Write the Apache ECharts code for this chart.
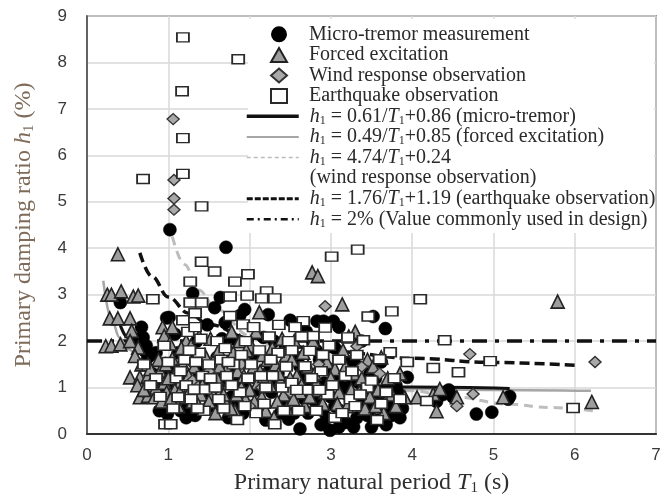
<!DOCTYPE html>
<html>
<head>
<meta charset="utf-8">
<script src="https://cdn.jsdelivr.net/npm/echarts@6/dist/echarts.min.js"></script>
<style>
  html, body { margin: 0; padding: 0; background: #fff; }
  #chart { width: 668px; height: 501px; }
</style>
</head>
<body>
<div id="chart"></div>
<script>
// Observed primary damping ratio h1 (%) against primary natural period T1 (s)
const microTremor = [
  [1.02,4.40],[1.71,4.02],[1.30,3.03],[0.41,2.83],[1.01,2.51],[0.98,2.50],
  [1.64,2.94],[1.57,2.72],[1.94,2.68],[2.23,2.57],[3.52,2.53],[3.67,2.27],[2.20,2.98],
  [0.67,2.30],[0.69,2.08],[0.60,2.05],[0.73,1.90],[0.71,1.79],[0.75,1.65],[0.85,1.75],[0.95,1.30],[0.89,0.50],[0.99,0.43],
  [1.05,1.45],[1.12,1.75],[1.20,1.25],[1.15,0.50],[1.22,0.35],[1.08,2.15],
  [1.35,2.00],[1.42,1.50],[1.46,0.90],[1.33,0.40],[1.48,2.35],
  [1.70,2.40],[1.60,1.65],[1.68,1.10],[1.55,0.60],[1.74,0.35],[1.66,2.05],
  [1.80,2.05],[1.85,1.15],[1.92,0.45],[1.97,1.70],[1.78,0.80],[1.88,2.55],
  [2.17,2.08],[2.05,1.65],[2.12,0.95],[2.20,0.30],[2.03,0.60],[2.24,1.35],
  [2.30,2.00],[2.35,1.30],[2.40,0.70],[2.48,0.32],[2.44,1.90],[2.27,0.90],[2.50,2.45],
  [2.60,1.64],[2.62,0.11],[2.55,0.85],[2.65,1.20],[2.70,2.20],[2.72,0.45],[2.58,2.35],[2.68,0.75],
  [2.83,2.43],[2.91,2.43],[2.80,0.72],[2.86,1.60],[2.92,1.10],[2.99,0.08],[2.95,0.35],[2.78,1.95],[2.88,0.20],
  [3.03,2.43],[3.05,1.85],[3.08,1.20],[3.12,0.50],[3.18,0.25],[3.22,1.55],[3.00,0.80],[3.15,1.00],[3.10,2.30],[3.25,0.65],
  [3.30,1.50],[3.35,1.10],[3.40,0.70],[3.45,0.40],[3.28,0.15],[3.48,1.30],[3.38,2.00],[3.50,0.15],
  [3.55,1.20],[3.60,0.85],[3.65,0.55],[3.70,1.05],[3.58,0.30],[3.72,0.65],[3.62,1.55],
  [3.94,1.22],[3.82,0.90],[3.88,0.55],[3.80,1.05],
  [0.80,1.30],[0.92,1.05],[1.00,0.70],[1.10,1.05],[1.25,0.60],[1.28,1.60],[1.38,1.25],[1.50,1.10],[1.58,1.35],
  [1.64,0.80],[1.76,1.40],[1.82,0.60],[1.95,1.00],[2.08,1.20],[2.15,0.55],[2.26,1.10],[2.38,0.45],[2.45,1.10],
  [2.55,0.45],[2.62,1.45],[2.75,1.05],[2.82,1.80],[2.90,0.50],[2.98,1.40],[3.05,0.60],[3.10,0.15],[3.20,0.85],
  [3.25,1.20],[3.32,0.35],[3.42,0.95],[3.50,0.55],[3.55,0.95],[3.68,0.20],[3.75,0.40],[3.85,0.35],
  [4.30,0.70],[4.38,0.85],[4.45,0.95],[4.50,0.80],[4.79,0.43],[4.98,0.47],[5.18,0.75],[5.20,0.81]
];
const forcedExcitation = [
  [0.38,3.87],[0.25,3.00],[0.30,3.00],[0.42,3.07],[0.57,2.96],[0.63,2.98],
  [0.28,2.49],[0.38,2.49],[0.53,2.49],[0.23,1.89],[0.30,1.90],[0.41,1.93],
  [0.55,2.22],[0.53,2.00],[0.63,1.86],[0.59,1.68],[0.67,1.50],[0.75,1.50],
  [0.53,1.22],[0.65,1.22],[0.75,1.25],[0.65,0.79],[0.75,0.82],[0.83,0.79],
  [0.93,2.30],[0.95,2.11],[0.85,1.00],[0.90,1.35],[0.95,1.10],[0.98,0.90],[0.88,1.60],
  [1.02,1.95],[1.05,1.62],[1.10,1.35],[1.15,1.12],[1.08,0.95],[1.20,0.80],[1.12,0.60],[1.18,1.50],[1.22,2.00],[1.05,2.30],
  [1.28,1.90],[1.32,1.45],[1.35,1.10],[1.40,0.85],[1.45,0.55],[1.30,0.70],[1.48,1.30],[1.38,2.10],[1.45,1.70],
  [1.52,2.05],[1.55,1.55],[1.60,1.20],[1.65,0.95],[1.70,0.70],[1.58,0.45],[1.72,1.40],[1.62,1.80],[1.55,0.85],
  [1.78,2.20],[1.80,1.75],[1.85,1.35],[1.90,1.00],[1.95,0.75],[1.82,0.50],[1.98,1.55],[1.88,2.00],
  [2.02,1.90],[2.05,1.45],[2.10,1.10],[2.15,0.80],[2.20,0.50],[2.08,2.20],[2.22,1.60],[2.18,1.25],[2.12,2.62],
  [2.28,1.85],[2.32,1.50],[2.38,1.15],[2.42,0.85],[2.46,0.55],[2.30,0.35],[2.45,1.70],
  [2.52,1.60],[2.58,1.25],[2.62,0.90],[2.68,0.60],[2.72,1.45],[2.55,2.00],[2.77,3.48],
  [2.84,3.40],[2.80,1.30],[2.85,0.95],[2.90,0.65],[2.95,1.55],[2.78,2.00],
  [3.14,2.79],[3.05,1.40],[3.10,0.90],[3.20,0.60],[3.15,1.80],[3.22,2.10],
  [3.28,1.30],[3.35,0.90],[3.42,0.55],[3.30,2.20],[3.45,1.60],
  [3.52,1.45],[3.58,0.95],[3.65,0.45],[3.70,1.20],[3.62,1.65],
  [3.91,0.79],[3.85,1.30],[3.80,0.60],
  [0.62,1.05],[0.70,0.95],[0.80,1.15],[0.78,1.40],[0.92,0.70],[0.97,1.50],[1.00,1.20],[1.03,0.75],[1.14,0.90],
  [1.16,1.85],[1.25,1.25],[1.27,0.95],[1.36,0.65],[1.42,1.05],[1.50,0.70],[1.53,1.05],[1.63,1.45],[1.68,0.85],
  [1.75,1.10],[1.77,0.55],[1.84,0.85],[1.93,1.25],[1.96,1.80],[2.00,0.95],[2.06,0.70],[2.13,1.35],[2.16,1.70],
  [2.25,1.05],[2.34,0.70],[2.36,1.30],[2.40,2.05],[2.50,1.20],[2.54,0.75],[2.64,1.05],[2.66,1.75],[2.74,0.80],
  [2.82,1.10],[2.93,0.90],[3.00,1.20],[3.08,0.65],[3.18,1.45],[3.25,0.95],[3.38,1.20],[3.48,0.80],[3.55,0.60],[3.75,0.85],
  [4.06,0.79],[4.26,0.86],[4.30,0.49],[4.34,0.97],[4.55,0.79],[5.12,0.79],[5.79,2.85],[6.21,0.69]
];
const windResponse = [
  [1.06,6.78],[1.07,5.47],[1.07,5.07],[1.07,4.83],[2.93,2.75],
  [1.30,1.15],[1.50,1.35],[1.90,1.50],[2.15,1.00],[2.40,1.75],[2.50,0.90],[2.00,0.60],[2.85,1.50],
  [3.32,1.89],[3.38,1.45],[3.60,1.30],
  [4.71,1.72],[6.25,1.55],[4.75,0.86],[4.55,0.60]
];
const earthquake = [
  [1.18,8.54],[1.86,8.07],[1.17,7.38],[1.18,6.37],[0.69,5.49],[1.18,5.60],[1.41,4.90],
  [1.41,3.71],[1.57,3.50],[1.27,3.28],[1.82,3.28],[1.98,3.44],
  [0.81,2.90],[1.27,2.83],[1.41,2.83],[1.76,2.96],[1.97,2.98],[2.21,3.07],[2.15,2.92],[2.31,2.92],
  [3.01,3.82],[3.33,3.97],[4.10,2.90],[3.75,2.64],[3.46,2.53],
  [0.70,1.50],[0.96,0.21],[1.03,0.21],[0.95,1.90],[0.85,1.20],
  [1.12,0.79],[1.10,1.20],[1.20,1.60],[1.24,2.20],[1.18,2.45],[1.22,1.05],
  [1.28,0.75],[1.32,0.96],[1.46,0.96],[1.44,0.50],[1.33,2.30],[1.33,2.60],[1.38,1.75],[1.42,1.25],[1.34,1.55],
  [1.60,2.00],[1.65,1.60],[1.72,1.25],[1.58,1.00],[1.68,0.55],[1.76,2.54],[1.70,1.85],
  [1.92,2.36],[1.80,1.50],[1.88,0.90],[1.95,2.00],[1.85,0.30],[1.98,1.20],
  [2.05,2.30],[2.12,1.80],[2.20,1.00],[2.08,0.45],[2.24,2.10],
  [2.31,0.21],[2.35,1.75],[2.40,1.00],[2.48,2.00],[2.28,1.25],[2.45,1.45],
  [2.66,2.43],[2.68,1.46],[2.74,1.79],[2.52,1.10],[2.60,0.50],[2.70,0.95],[2.56,2.30],
  [2.78,2.11],[2.93,2.29],[2.88,1.35],[2.96,0.85],[2.82,0.50],[2.98,1.90],
  [3.21,2.08],[3.10,1.60],[3.18,1.25],[3.05,0.35],[3.24,0.75],
  [3.40,2.02],[3.32,1.70],[3.45,1.00],[3.30,0.60],
  [3.73,1.76],[3.60,1.61],[3.57,0.30],[3.68,0.90],
  [3.94,1.55],[3.85,0.75],
  [0.78,1.05],[0.90,0.80],[1.00,1.55],[1.06,0.55],[1.15,1.35],[1.26,1.80],[1.36,0.55],[1.40,2.05],[1.50,1.50],
  [1.52,1.20],[1.62,0.75],[1.74,1.55],[1.78,1.05],[1.90,1.70],[1.94,0.60],[2.02,1.50],[2.14,1.25],[2.18,0.65],
  [2.26,1.60],[2.36,2.35],[2.42,0.50],[2.52,1.80],[2.58,0.95],[2.64,2.10],[2.76,1.20],[2.86,0.95],[2.90,1.70],
  [3.02,1.05],[3.14,0.45],[3.26,1.35],[3.36,0.85],[3.50,1.15],[3.62,0.65],[3.78,1.20],
  [4.40,2.02],[4.26,1.42],[4.18,0.71],[4.96,1.57],[4.57,1.33],[5.98,0.56]
];

// Regression curves, sampled along their plotted extent
const fitMicroTremor = [[0.4,2.39],[0.5,2.08],[0.6,1.88],[0.8,1.62],[1.0,1.47],[1.5,1.27],[2.0,1.17],[3.0,1.06],[4.0,1.01],[5.2,0.98]];
const fitForced = [[0.2,3.30],[0.3,2.48],[0.4,2.08],[0.5,1.83],[0.7,1.55],[1.0,1.34],[1.5,1.18],[2.0,1.10],[3.0,1.01],[4.0,0.97],[5.0,0.95],[6.2,0.93]];
const fitWind = [[1.05,4.25],[1.2,3.65],[1.37,3.10],[1.6,2.68],[2.0,2.12],[2.5,1.64],[3.0,1.32],[3.5,1.09],[4.0,0.93],[4.5,0.80],[5.2,0.64],[5.7,0.57],[6.27,0.49]];
const fitEarthquake = [[0.65,3.90],[0.8,3.39],[1.0,2.95],[1.25,2.60],[1.5,2.36],[2.0,2.07],[2.5,1.89],[3.0,1.78],[4.0,1.63],[5.0,1.54],[6.0,1.48]];
const designValue = [[0,2],[7,2]];

const xRange = [0, 7];
const yRange = [0, 9];

// Legend entries: series name -> rich-text label
const legendLabels = {
  mt:  'Micro-tremor measurement',
  fe:  'Forced excitation',
  wr:  'Wind response observation',
  eq:  'Earthquake observation',
  fMt: '{i|h}{s|1} = 0.61/{i|T}{s|1}+0.86 (micro-tremor)',
  fFe: '{i|h}{s|1} = 0.49/{i|T}{s|1}+0.85 (forced excitation)',
  fWr: '{i|h}{s|1} = 4.74/{i|T}{s|1}+0.24',
  fWr2: '(wind response observation)',
  fEq: '{i|h}{s|1} = 1.76/{i|T}{s|1}+1.19 (earthquake observation)',
  dsg: '{i|h}{s|1} = 2% (Value commonly used in design)'
};

const SERIF = '"Liberation Serif", "Times New Roman", serif';
const SANS = '"Liberation Sans", Arial, sans-serif';
const FS = 20;

function legendText(padLeft) {
  return {
    fontFamily: SERIF, fontSize: FS, color: '#2a2a2a', lineHeight: 20.6,
    padding: [0, 0, 0, padLeft],
    rich: {
      i: { fontFamily: SERIF, fontSize: FS, fontStyle: 'italic', color: '#2a2a2a', lineHeight: 20.6 },
      s: { fontFamily: SERIF, fontSize: 12, color: '#2a2a2a', lineHeight: 8, verticalAlign: 'bottom' }
    }
  };
}

const hiddenDot = { opacity: 0 };

const chart = echarts.init(document.getElementById('chart'), null, { renderer: 'canvas' });

chart.setOption({
  backgroundColor: '#fff',
  animation: false,
  grid: {
    left: 87, right: 12, top: 16, bottom: 66,
    show: true, borderColor: '#444', borderWidth: 1.5, backgroundColor: 'transparent'
  },
  xAxis: {
    type: 'value', min: xRange[0], max: xRange[1], interval: 1,
    name: 'Primary natural period {i|T}{s|1} (s)',
    nameLocation: 'middle', nameGap: 36,
    nameTextStyle: {
      fontFamily: SERIF, fontSize: 24, color: '#2f2f2f', lineHeight: 26,
      rich: {
        i: { fontFamily: SERIF, fontSize: 24, fontStyle: 'italic', color: '#2f2f2f', lineHeight: 26 },
        s: { fontFamily: SERIF, fontSize: 15, color: '#2f2f2f', lineHeight: 10, verticalAlign: 'bottom' }
      }
    },
    axisLine: { show: true, lineStyle: { color: '#333', width: 2 } },
    axisTick: { show: false },
    axisLabel: { fontFamily: SANS, fontSize: 17, color: '#3a3a3a', margin: 13 },
    splitLine: { show: true, lineStyle: { color: '#d9d9d9', width: 1.5 } }
  },
  yAxis: {
    type: 'value', min: yRange[0], max: yRange[1], interval: 1,
    name: 'Primary damping ratio {i|h}{s|1} (%)',
    nameLocation: 'middle', nameGap: 50, nameRotate: 90,
    nameTextStyle: {
      fontFamily: SERIF, fontSize: 24, color: '#7e6b5a', lineHeight: 26,
      rich: {
        i: { fontFamily: SERIF, fontSize: 24, fontStyle: 'italic', color: '#7e6b5a', lineHeight: 26 },
        s: { fontFamily: SERIF, fontSize: 15, color: '#7e6b5a', lineHeight: 10, verticalAlign: 'bottom' }
      }
    },
    axisLine: { show: true, lineStyle: { color: '#444', width: 1.5 } },
    axisTick: { show: false },
    axisLabel: { fontFamily: SANS, fontSize: 17, color: '#3a3a3a', margin: 20 },
    splitLine: { show: true, lineStyle: { color: '#d9d9d9', width: 1.5 } }
  },
  graphic: {
    elements: [{
      type: 'rect', z: 1, silent: true,
      shape: { x: 248, y: 19, width: 406, height: 214 },
      style: { fill: '#fff' }
    }]
  },
  legend: [
    {
      orient: 'vertical', left: 270, top: 24, padding: 0, itemGap: 0,
      itemWidth: 16, itemHeight: 14, selectedMode: false,
      data: ['mt', 'fe', 'wr', 'eq'],
      formatter: n => legendLabels[n],
      textStyle: legendText(17)
    },
    {
      orient: 'vertical', left: 245, top: 106, padding: 0, itemGap: 0,
      itemWidth: 52, itemHeight: 14, selectedMode: false,
      data: [
        { name: 'fMt', itemStyle: hiddenDot, lineStyle: { width: 3.5 } },
        { name: 'fFe', itemStyle: hiddenDot, lineStyle: { width: 2 } },
        { name: 'fWr', itemStyle: hiddenDot, lineStyle: { width: 1.5, type: [4, 3] } },
        { name: 'fWr2', icon: 'none' },
        { name: 'fEq', itemStyle: hiddenDot, lineStyle: { width: 3, type: [6, 2] } },
        { name: 'dsg', itemStyle: hiddenDot, lineStyle: { width: 2.5, type: [7, 4, 2, 4] } }
      ],
      formatter: n => legendLabels[n],
      textStyle: legendText(6)
    }
  ],
  series: [
    {
      name: 'dsg', type: 'line', data: designValue, symbol: 'none', z: 2,
      lineStyle: { color: '#111', width: 3.5, type: [15, 8, 4, 8] }
    },
    {
      name: 'fEq', type: 'line', data: fitEarthquake, symbol: 'none', z: 2,
      smooth: 0.4, smoothMonotone: 'x',
      lineStyle: { color: '#111', width: 3.5, type: [10, 5] }
    },
    {
      name: 'fWr', type: 'line', data: fitWind, symbol: 'none', z: 2,
      smooth: 0.4, smoothMonotone: 'x',
      lineStyle: { color: '#bdbdbd', width: 3, type: [9, 6] }
    },
    {
      name: 'fWr2', type: 'scatter', data: [], symbol: 'none'
    },
    {
      name: 'fFe', type: 'line', data: fitForced, symbol: 'none', z: 2,
      smooth: 0.4, smoothMonotone: 'x',
      lineStyle: { color: '#a6a6a6', width: 2.5 }
    },
    {
      name: 'fMt', type: 'line', data: fitMicroTremor, symbol: 'none', z: 2,
      smooth: 0.4, smoothMonotone: 'x',
      lineStyle: { color: '#111', width: 3 }
    },
    {
      name: 'mt', type: 'scatter', data: microTremor, z: 3,
      symbol: 'circle', symbolSize: 13,
      itemStyle: { color: '#000', borderColor: '#000', borderWidth: 0.5, opacity: 1 }
    },
    {
      name: 'fe', type: 'scatter', data: forcedExcitation, z: 3,
      symbol: 'triangle', symbolSize: 13,
      itemStyle: { color: '#9d9d9d', borderColor: '#222', borderWidth: 1.6, opacity: 1 }
    },
    {
      name: 'wr', type: 'scatter', data: windResponse, z: 3,
      symbol: 'diamond', symbolSize: [12, 11],
      itemStyle: { color: '#a9a9a9', borderColor: '#333', borderWidth: 1.4, opacity: 1 }
    },
    {
      name: 'eq', type: 'scatter', data: earthquake, z: 3,
      symbol: 'rect', symbolSize: [12, 9],
      itemStyle: { color: '#fff', borderColor: '#2a2a2a', borderWidth: 1.6, opacity: 1 }
    }
  ]
});
</script>
</body>
</html>
